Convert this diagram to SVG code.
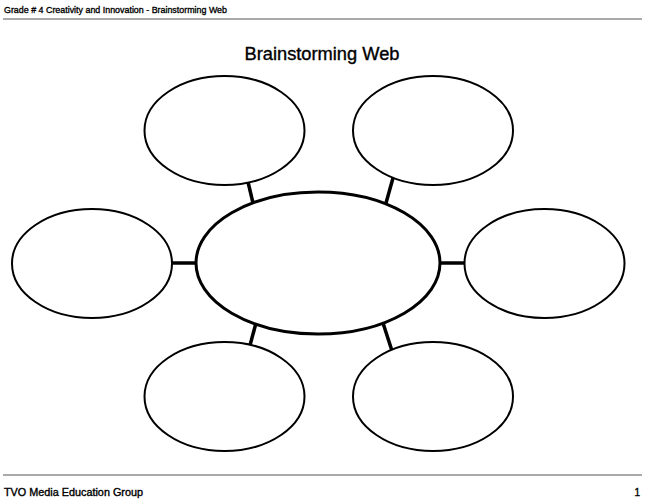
<svg xmlns="http://www.w3.org/2000/svg" width="650" height="500" viewBox="0 0 650 500">
<style>
.t{font-family:"Liberation Sans",Arial,sans-serif;fill:#000}
.m{stroke:#000;stroke-width:0.35}
.o{fill:#fff;stroke:#000;stroke-width:2}
.c{fill:#fff;stroke:#000;stroke-width:3}
.k{stroke:#000;stroke-width:3.5;fill:none}
.r{stroke:#555;stroke-width:1}
</style>
<rect width="650" height="500" fill="#fff"/>
<g id="header">
<text class="t m" x="4" y="13" font-size="9.5" textLength="223" lengthAdjust="spacingAndGlyphs">Grade # 4 Creativity and Innovation - Brainstorming Web</text>
<line class="r" x1="3" y1="19" x2="642" y2="19"/>
</g>
<text id="title" class="t m" x="322" y="60" font-size="17.5" text-anchor="middle" textLength="155" lengthAdjust="spacingAndGlyphs">Brainstorming Web</text>
<g id="connectors">
<line class="k" x1="248" y1="182" x2="253" y2="203"/>
<line class="k" x1="393" y1="178" x2="386" y2="203"/>
<line class="k" x1="171" y1="263" x2="197" y2="263"/>
<line class="k" x1="439" y1="263" x2="466" y2="263"/>
<line class="k" x1="256" y1="323" x2="249" y2="349"/>
<line class="k" x1="383" y1="323" x2="393" y2="354"/>
</g>
<g id="center"><ellipse class="c" cx="318" cy="263" rx="122" ry="71"/></g>
<g id="topLeft"><ellipse class="o" cx="224.5" cy="130.5" rx="80" ry="54.5"/></g>
<g id="topRight"><ellipse class="o" cx="433" cy="130.5" rx="80" ry="54.5"/></g>
<g id="left"><ellipse class="o" cx="92" cy="263.5" rx="80" ry="54.5"/></g>
<g id="right"><ellipse class="o" cx="544.5" cy="263.5" rx="80" ry="54.5"/></g>
<g id="bottomLeft"><ellipse class="o" cx="224.5" cy="396.5" rx="80" ry="54.5"/></g>
<g id="bottomRight"><ellipse class="o" cx="433" cy="396.5" rx="80" ry="54.5"/></g>
<g id="footer">
<line class="r" x1="3" y1="475" x2="642" y2="475"/>
<text class="t m" x="4" y="496" font-size="10" textLength="139" lengthAdjust="spacingAndGlyphs">TVO Media Education Group</text>
<text class="t m" x="640" y="496" font-size="10" text-anchor="end">1</text>
</g>
</svg>
